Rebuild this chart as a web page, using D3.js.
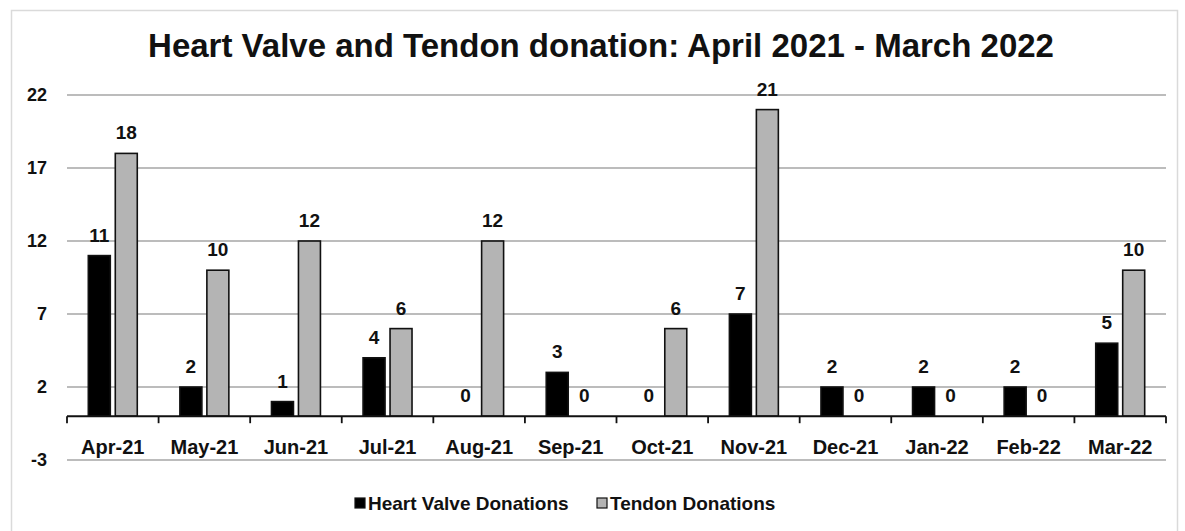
<!DOCTYPE html>
<html>
<head>
<meta charset="utf-8">
<script src="https://cdn.jsdelivr.net/npm/d3@7"></script>
<style>
  html, body { margin: 0; padding: 0; background: #fff; }
  svg { display: block; }
  text { font-family: Arial, "Liberation Sans", sans-serif; font-weight: bold; fill: #111; }
</style>
</head>
<body>
<svg id="chart" width="1185" height="531"></svg>
<script>
// Monthly donation counts, April 2021 - March 2022
const months = ["Apr-21", "May-21", "Jun-21", "Jul-21", "Aug-21", "Sep-21",
                "Oct-21", "Nov-21", "Dec-21", "Jan-22", "Feb-22", "Mar-22"];
const heartValve = [11, 2, 1, 4, 0, 3, 0, 7, 2, 2, 2, 5];
const tendon     = [18, 10, 12, 6, 12, 0, 6, 21, 0, 0, 0, 10];
const seriesNames = ["Heart Valve Donations", "Tendon Donations"];
const yTicks = [-3, 2, 7, 12, 17, 22];
const titleText = "Heart Valve and Tendon donation: April 2021 - March 2022";

const colors = ["#000000", "#b4b4b4"];
const series = [heartValve, tendon];

const svg = d3.select("#chart");
const plot = { left: 67, right: 1166, top: 95, bottom: 460 };

// outer chart frame
svg.append("rect")
  .attr("x", 11.5).attr("y", 10.5)
  .attr("width", 1166).attr("height", 540)
  .attr("fill", "#fff").attr("stroke", "#dadada").attr("stroke-width", 1.5);

const x0 = d3.scaleBand().domain(months).range([plot.left, plot.right]).padding(0);
const x1 = d3.scaleBand().domain([0, 1]).range([0, x0.bandwidth()])
  .paddingInner(0.185).paddingOuter(0.79);
const y = d3.scaleLinear().domain([-3, 22]).range([plot.bottom, plot.top]);

// horizontal gridlines
svg.append("g").selectAll("line").data(yTicks).join("line")
  .attr("x1", plot.left).attr("x2", plot.right)
  .attr("y1", d => y(d)).attr("y2", d => y(d))
  .attr("stroke", "#7a7a7a").attr("stroke-width", 1.2);

// y axis labels (plain hyphen for negatives)
const yAxis = svg.append("g").attr("transform", `translate(${plot.left - 20},0)`)
  .call(d3.axisLeft(y).tickValues(yTicks).tickFormat(d => String(d)).tickSize(0).tickPadding(0));
yAxis.select(".domain").remove();
yAxis.selectAll("text")
  .attr("font-size", 18).attr("font-family", null).attr("fill", null);

// bars
const groups = svg.append("g").selectAll("g").data(months).join("g")
  .attr("transform", d => `translate(${x0(d)},0)`);

groups.selectAll("rect")
  .data((m, i) => series.map((s, k) => ({ k, v: s[i] })))
  .join("rect")
  .filter(d => d.v !== 0)
  .attr("x", d => x1(d.k))
  .attr("width", x1.bandwidth())
  .attr("y", d => y(d.v))
  .attr("height", d => y(0) - y(d.v))
  .attr("fill", d => colors[d.k])
  .attr("stroke", "#111").attr("stroke-width", 1.6);

// value labels
groups.selectAll("text.val")
  .data((m, i) => series.map((s, k) => ({ k, v: s[i] })))
  .join("text").attr("class", "val")
  .attr("x", d => x1(d.k) + x1.bandwidth() / 2)
  .attr("y", d => y(d.v) - 14)
  .attr("text-anchor", "middle")
  .attr("font-size", 19)
  .text(d => d.v);

// category axis on the zero line
const xAxis = svg.append("g").attr("transform", `translate(0,${y(0)})`)
  .call(d3.axisBottom(x0).tickSize(0).tickPadding(24));
xAxis.select(".domain").remove();
xAxis.selectAll("text")
  .attr("font-size", 20).attr("font-family", null).attr("fill", null);

svg.append("line")
  .attr("x1", plot.left).attr("x2", plot.right)
  .attr("y1", y(0)).attr("y2", y(0))
  .attr("stroke", "#111").attr("stroke-width", 2);

const boundaries = months.map(m => x0(m)).concat([plot.right]);
svg.append("g").selectAll("line").data(boundaries).join("line")
  .attr("x1", d => d).attr("x2", d => d)
  .attr("y1", y(0)).attr("y2", y(0) + 7)
  .attr("stroke", "#111").attr("stroke-width", 1.8);

// title
svg.append("text")
  .attr("x", 601).attr("y", 57)
  .attr("text-anchor", "middle")
  .attr("font-size", 33)
  .text(titleText);

// legend
const legendItems = [
  { name: seriesNames[0], color: colors[0], x: 355 },
  { name: seriesNames[1], color: colors[1], x: 597 }
];
const lg = svg.append("g").selectAll("g").data(legendItems).join("g")
  .attr("transform", d => `translate(${d.x},503)`);
lg.append("rect")
  .attr("x", 0).attr("y", -5).attr("width", 10).attr("height", 10)
  .attr("fill", d => d.color).attr("stroke", "#111").attr("stroke-width", 1.2);
lg.append("text")
  .attr("x", 13).attr("y", 7)
  .attr("font-size", 19)
  .text(d => d.name);
</script>
</body>
</html>
